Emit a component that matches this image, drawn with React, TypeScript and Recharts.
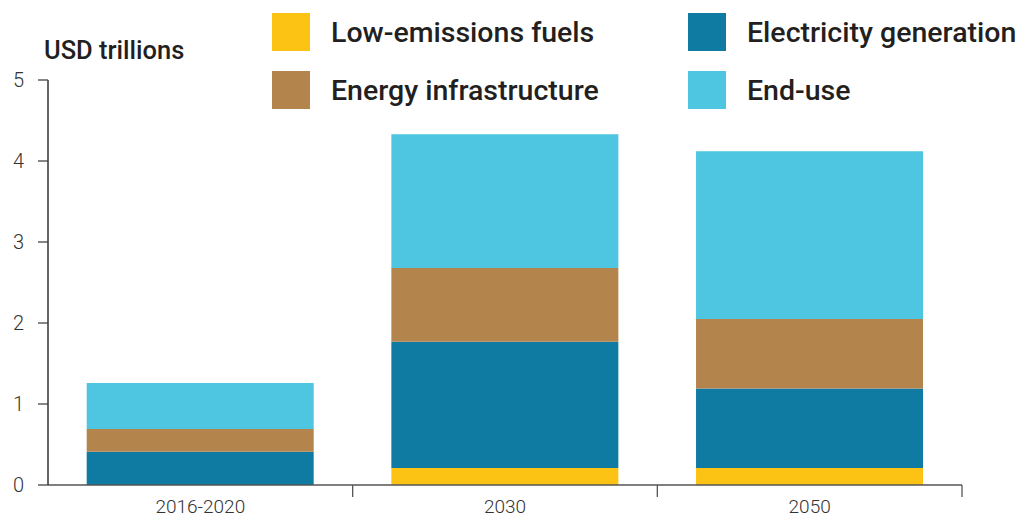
import React, { useEffect } from 'react';
import { BarChart, Bar, XAxis, YAxis } from 'recharts';

const categories = ['2016-2020', '2030', '2050'];
const lowEmissionsFuels = [0, 0.21, 0.21];
const electricityGeneration = [0.41, 1.56, 0.98];
const energyInfrastructure = [0.28, 0.91, 0.86];
const endUse = [0.57, 1.65, 2.07];
const yTicks = [0, 1, 2, 3, 4, 5];

const series = [
  { key: 'low', name: 'Low-emissions fuels', color: '#FDC314', values: lowEmissionsFuels },
  { key: 'elec', name: 'Electricity generation', color: '#0F7BA3', values: electricityGeneration },
  { key: 'infra', name: 'Energy infrastructure', color: '#B3844C', values: energyInfrastructure },
  { key: 'end', name: 'End-use', color: '#4EC6E1', values: endUse },
];

const data = categories.map((cat, i) => {
  const row: Record<string, string | number> = { cat };
  series.forEach((s) => (row[s.key] = s.values[i]));
  return row;
});

// legend order in the picture: two columns
const legendOrder = ['low', 'infra', 'elec', 'end'];

const W = 1024;
const H = 517;
const LEFT = 48;
const RIGHT = 62;
const TOP = 80;
const BOTTOM = 32;
const BAND = (W - LEFT - RIGHT) / categories.length;

const FONT = 'Roboto, "Open Sans", sans-serif';

const XTick = (props: any) => {
  const { x, y, payload } = props;
  return (
    <g>
      <line x1={x + BAND / 2} x2={x + BAND / 2} y1={y} y2={y + 12} stroke="#555" strokeWidth={1.3} />
      <text x={x} y={y + 28} textAnchor="middle" fill="#333" fontSize={19} fontWeight={300} fontFamily={FONT}>
        {payload.value}
      </text>
    </g>
  );
};

export default function App() {
  useEffect(() => {
    document.body.style.margin = '0';
  }, []);

  return (
    <div style={{ position: 'relative', width: W, height: H, background: '#fff', fontFamily: FONT }}>
      <div
        style={{
          position: 'absolute', left: 44, top: 35, fontSize: 25.5, fontWeight: 500,
          color: '#231f20', lineHeight: '30px',
        }}
      >
        USD trillions
      </div>
      {legendOrder.map((k, i) => {
        const s = series.find((d) => d.key === k)!;
        const col = Math.floor(i / 2);
        const row = i % 2;
        return (
          <div
            key={k}
            style={{
              position: 'absolute', left: 272 + col * 416, top: 13 + row * 58,
              display: 'flex', alignItems: 'center', height: 38,
            }}
          >
            <div style={{ width: 38, height: 38, background: s.color }} />
            <div style={{ marginLeft: 21, fontSize: 28.5, fontWeight: 500, color: '#231f20', whiteSpace: 'nowrap' }}>
              {s.name}
            </div>
          </div>
        );
      })}
      <BarChart
        width={W}
        height={H}
        data={data}
        margin={{ top: TOP, right: RIGHT, bottom: 0, left: 0 }}
        barCategoryGap="12.7%"
        style={{ position: 'absolute', left: 0, top: 0 }}
      >
        <XAxis
          dataKey="cat"
          height={BOTTOM}
          tickLine={false}
          tickSize={0}
          tickMargin={0}
          tick={<XTick />}
          axisLine={{ stroke: '#555', strokeWidth: 1.3 }}
          interval={0}
        />
        <YAxis
          width={LEFT}
          domain={[0, 5]}
          ticks={yTicks}
          tickSize={10}
          tickMargin={14}
          tickLine={{ stroke: '#444', strokeWidth: 1.3 }}
          axisLine={{ stroke: '#333', strokeWidth: 1.5 }}
          tick={{ fill: '#333', fontSize: 20, fontWeight: 300, fontFamily: FONT }}
          interval={0}
        />
        {series.map((s) => (
          <Bar key={s.key} dataKey={s.key} name={s.name} stackId="a" fill={s.color} isAnimationActive={false} />
        ))}
      </BarChart>
    </div>
  );
}
